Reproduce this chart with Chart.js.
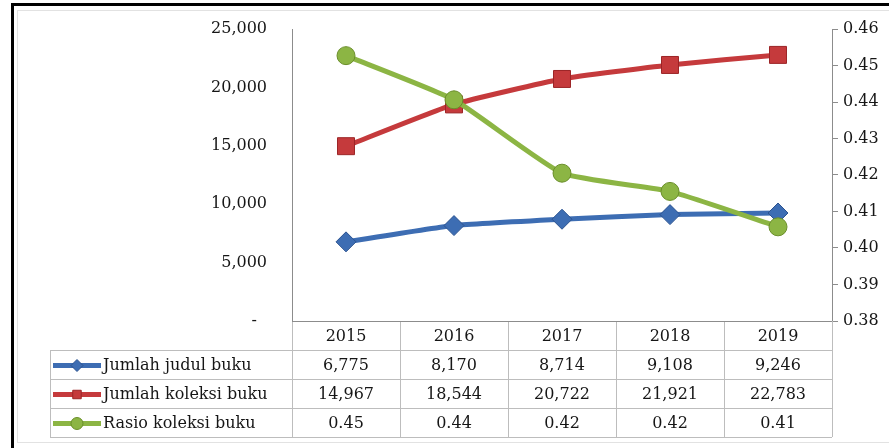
<!DOCTYPE html>
<html>
<head>
<meta charset="utf-8">
<script src="https://cdn.jsdelivr.net/npm/chart.js@4.4.1/dist/chart.umd.min.js"></script>
<style>
  html, body { margin: 0; padding: 0; background: #fff; overflow: hidden; }
  #frame { position: absolute; left: 11px; top: 3px; width: 1000px; height: 1000px; border: 3px solid #000; }
  #inner { position: absolute; left: 17px; top: 10px; width: 1000px; height: 431px; border: 1px solid #e2e2e2; }
  #wrap { position: absolute; left: 0; top: 0; width: 889px; height: 448px; }
</style>
</head>
<body>
<div id="frame"></div>
<div id="inner"></div>
<div id="wrap"><canvas id="chart" width="889" height="448"></canvas></div>
<script>
// dados
const YEARS = ['2015', '2016', '2017', '2018', '2019'];
const JUDUL = [6775, 8170, 8714, 9108, 9246];
const KOLEKSI = [14967, 18544, 20722, 21921, 22783];
const RASIO = [0.4527, 0.4406, 0.4205, 0.4155, 0.4058];

const LABELS = ['Jumlah judul buku', 'Jumlah koleksi buku', 'Rasio koleksi buku'];
const COLORS = ['#3d6db3', '#c53a3c', '#8cb544'];
const BORDERS = ['#2c5390', '#9c2527', '#6a8e2a'];
const STYLES = ['rectRot', 'rect', 'circle'];

const FAMILY = '"DejaVu Serif", serif';
const FONT = '16px ' + FAMILY;
const TXT = '#161616';
const GRID = '#bdbdbd';

// tabela de dados embaixo do gráfico
const tablePlugin = {
    id: 'dataTable',
    afterDraw(chart) {
        const ctx = chart.ctx;
        const x = chart.scales.x;
        const area = chart.chartArea;
        const half = (x.getPixelForValue(1) - x.getPixelForValue(0)) / 2;
        const top = area.bottom;
        const headH = 29, rowH = 29;
        const labelLeft = 50;
        const bottom = top + headH + rowH * 3;

        ctx.save();
        ctx.lineWidth = 1;
        ctx.strokeStyle = GRID;
        ctx.beginPath();
        // linhas horizontais
        for (let r = 1; r <= 4; r++) {
            const y = Math.round(top + headH + rowH * (r - 1)) + 0.5;
            ctx.moveTo(labelLeft, y);
            ctx.lineTo(area.right, y);
        }
        // linhas verticais
        ctx.moveTo(labelLeft + 0.5, top + headH);
        ctx.lineTo(labelLeft + 0.5, bottom);
        for (let i = 0; i <= YEARS.length; i++) {
            const xx = Math.round(x.getPixelForValue(i) - half) + 0.5;
            ctx.moveTo(xx, top);
            ctx.lineTo(xx, bottom);
        }
        ctx.stroke();

        // linha do eixo x
        ctx.strokeStyle = '#8c8c8c';
        ctx.beginPath();
        ctx.moveTo(area.left, Math.round(top) + 0.5);
        ctx.lineTo(area.right, Math.round(top) + 0.5);
        ctx.stroke();

        ctx.font = FONT;
        ctx.fillStyle = TXT;
        ctx.textBaseline = 'middle';
        ctx.textAlign = 'center';
        YEARS.forEach((yr, i) => ctx.fillText(yr, x.getPixelForValue(i), top + headH / 2 + 1));

        const rows = [
            JUDUL.map(v => v.toLocaleString('en-US')),
            KOLEKSI.map(v => v.toLocaleString('en-US')),
            RASIO.map(v => v.toFixed(2))
        ];
        rows.forEach((vals, r) => {
            const cy = top + headH + rowH * r + rowH / 2 + 1;
            ctx.textAlign = 'center';
            ctx.fillStyle = TXT;
            vals.forEach((v, i) => ctx.fillText(v, x.getPixelForValue(i), cy));

            // chave da legenda
            ctx.strokeStyle = COLORS[r];
            ctx.lineWidth = 5;
            ctx.beginPath();
            ctx.moveTo(53, cy);
            ctx.lineTo(101, cy);
            ctx.stroke();
            ctx.fillStyle = COLORS[r];
            ctx.strokeStyle = BORDERS[r];
            ctx.lineWidth = 1;
            Chart.helpers.drawPoint(ctx, { pointStyle: STYLES[r], radius: 6, rotation: 0, borderWidth: 1 }, 77, cy);

            ctx.fillStyle = TXT;
            ctx.textAlign = 'left';
            ctx.fillText(LABELS[r], 103, cy);
        });
        ctx.restore();
    }
};

const ds = (data, i, axis, radius, order) => ({
    label: LABELS[i],
    data: data,
    yAxisID: axis,
    borderColor: COLORS[i],
    backgroundColor: COLORS[i],
    borderWidth: 5,
    pointStyle: STYLES[i],
    pointRadius: radius,
    pointBackgroundColor: COLORS[i],
    pointBorderColor: BORDERS[i],
    pointBorderWidth: 1,
    tension: 0.15,
    order: order
});

new Chart(document.getElementById('chart'), {
    type: 'line',
    data: {
        labels: YEARS,
        datasets: [
            ds(JUDUL, 0, 'y', 10, 1),
            ds(KOLEKSI, 1, 'y', 12, 2),
            ds(RASIO, 2, 'y1', 9, 0)
        ]
    },
    options: {
        responsive: false,
        animation: false,
        layout: { padding: { top: 29, bottom: 127, left: 0, right: 0 } },
        plugins: { legend: { display: false }, tooltip: { enabled: false } },
        scales: {
            x: { display: false, offset: true },
            y: {
                position: 'left',
                min: 0, max: 25000,
                afterFit: s => { s.width = 292; },
                grid: { display: false },
                border: { display: true, color: '#8c8c8c' },
                ticks: {
                    stepSize: 5000,
                    padding: 17,
                    color: TXT,
                    font: { family: FAMILY, size: 16 },
                    callback: v => v === 0 ? '-  ' : v.toLocaleString('en-US')
                }
            },
            y1: {
                position: 'right',
                min: 0.38, max: 0.46,
                afterFit: s => { s.width = 57; },
                grid: { display: true, drawOnChartArea: false, tickLength: 6, color: '#8c8c8c' },
                border: { display: true, color: '#8c8c8c' },
                ticks: {
                    stepSize: 0.01,
                    padding: 5,
                    color: TXT,
                    font: { family: FAMILY, size: 16 },
                    callback: v => Number(v).toFixed(2)
                }
            }
        }
    },
    plugins: [tablePlugin]
});
</script>
</body>
</html>
